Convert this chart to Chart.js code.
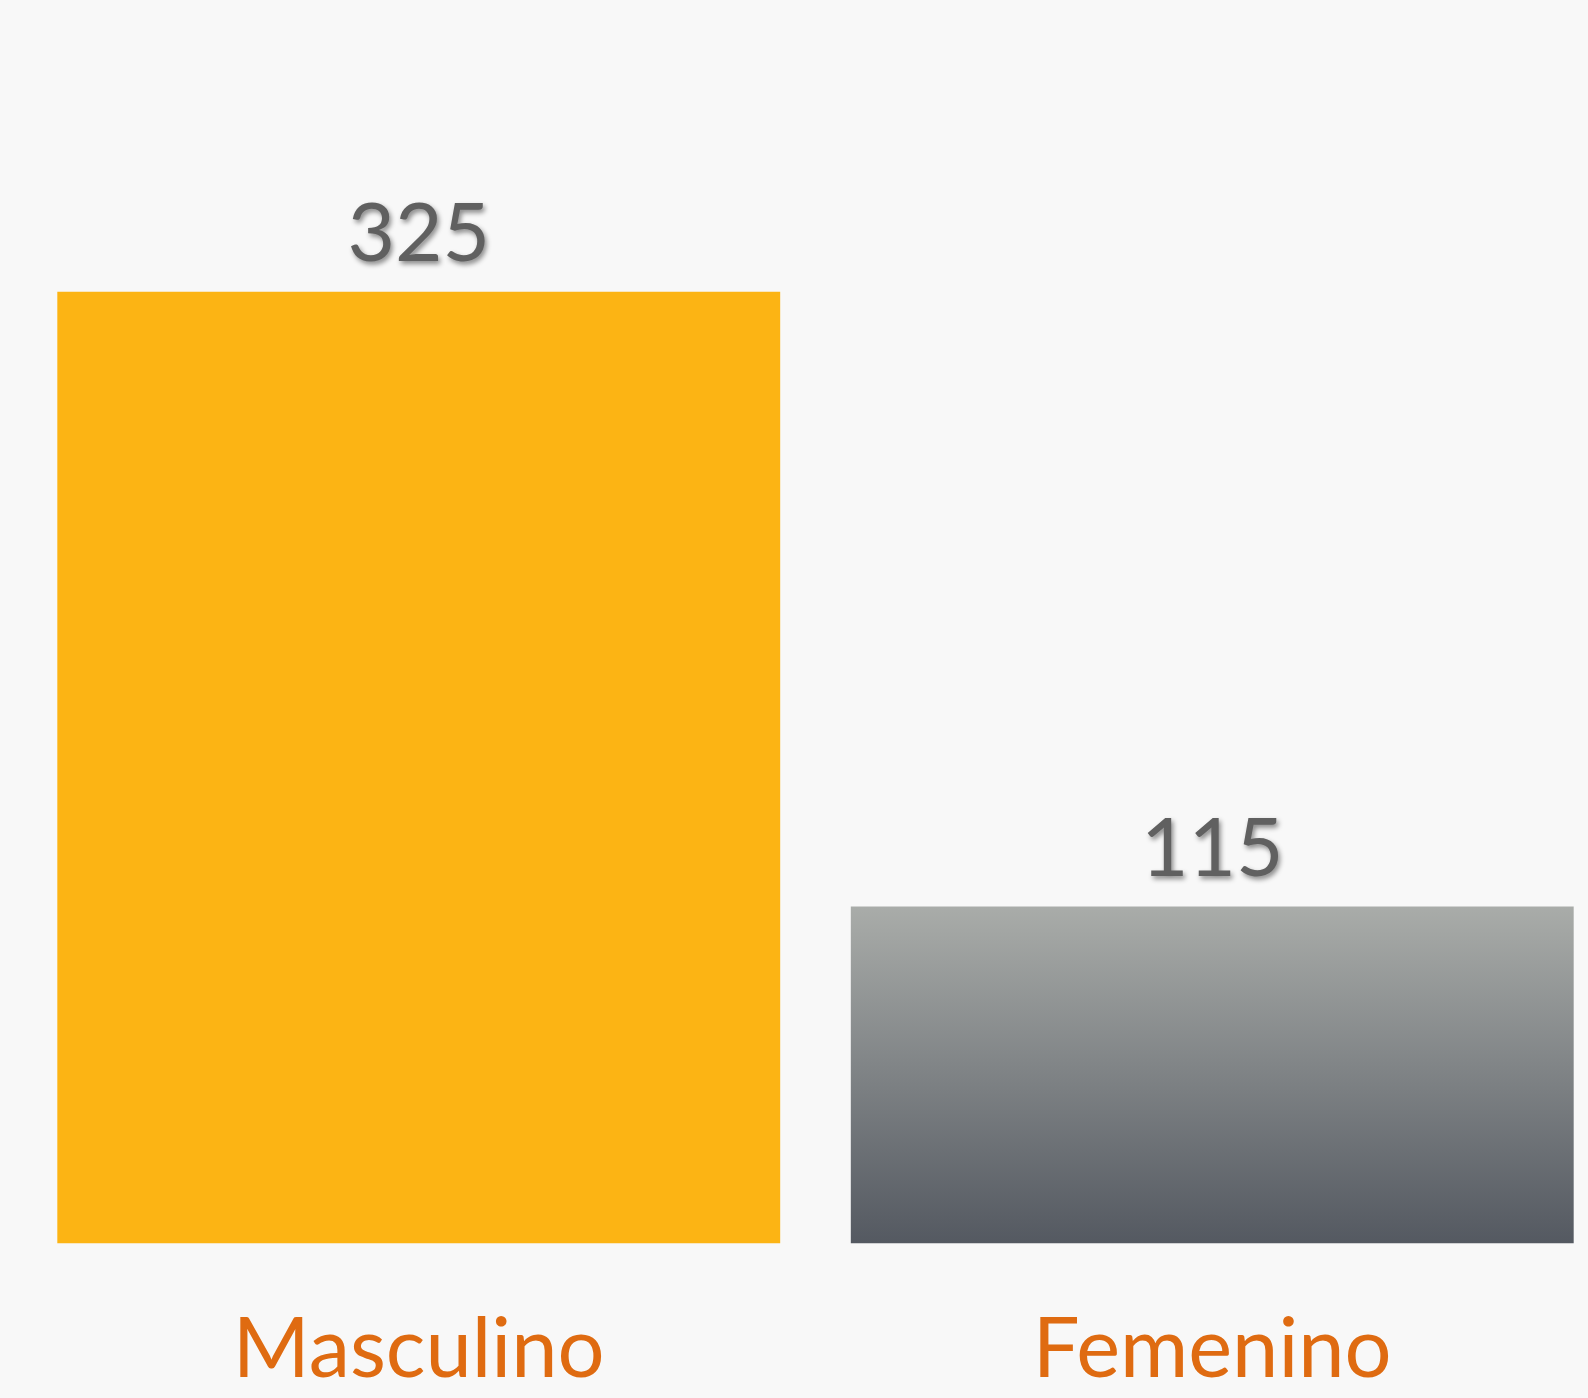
<!DOCTYPE html>
<html>
<head>
<meta charset="utf-8">
<script src="https://cdn.jsdelivr.net/npm/chart.js@4"></script>
<style>
  html, body { margin: 0; padding: 0; background: #f8f8f8; overflow: hidden; }
  #wrap { position: relative; width: 1610px; height: 1457px; }
</style>
</head>
<body>
<div id="wrap"><canvas id="genderChart"></canvas></div>
<script>
const categories = ["Masculino", "Femenino"];
const counts = [325, 115];
const yMax = 400;

// value labels above the bars, with a soft shadow
const valueLabels = {
  id: "valueLabels",
  afterDatasetsDraw(chart) {
    const ctx = chart.ctx;
    const meta = chart.getDatasetMeta(0);
    ctx.save();
    ctx.font = "82px Lato";
    ctx.fillStyle = "#606060";
    ctx.textAlign = "center";
    ctx.textBaseline = "alphabetic";
    ctx.shadowColor = "rgba(0,0,0,0.45)";
    ctx.shadowBlur = 5;
    ctx.shadowOffsetX = 2;
    ctx.shadowOffsetY = 3;
    meta.data.forEach((bar, i) => {
      ctx.fillText(String(counts[i]), bar.x, bar.y - 31);
    });
    ctx.restore();
  },
};

function barFill(context) {
  if (context.dataIndex === 0) return "#fcb414";
  const chart = context.chart;
  if (!chart.chartArea) return "#7d8084";
  const y = chart.scales.y;
  const top = y.getPixelForValue(counts[context.dataIndex]);
  const bottom = y.getPixelForValue(0);
  const g = chart.ctx.createLinearGradient(0, top, 0, bottom);
  g.addColorStop(0, "#a9aca9");
  g.addColorStop(1, "#545961");
  return g;
}

new Chart(document.getElementById("genderChart"), {
  type: "bar",
  data: {
    labels: categories,
    datasets: [
      {
        data: counts,
        backgroundColor: barFill,
        borderWidth: 0,
        barPercentage: 0.911,
        categoryPercentage: 1,
      },
    ],
  },
  options: {
    responsive: true,
    maintainAspectRatio: false,
    animation: false,
    layout: { padding: { left: 22, right: 1, top: 72, bottom: 0 } },
    plugins: { legend: { display: false }, tooltip: { enabled: false } },
    scales: {
      x: {
        grid: { display: false, drawTicks: false },
        border: { display: false },
        ticks: {
          color: "#df6b11",
          padding: 57,
          font: { family: "Lato", size: 83, lineHeight: 1.2 },
        },
      },
      y: { display: false, min: 0, max: yMax },
    },
  },
  plugins: [valueLabels],
});
</script>
</body>
</html>
